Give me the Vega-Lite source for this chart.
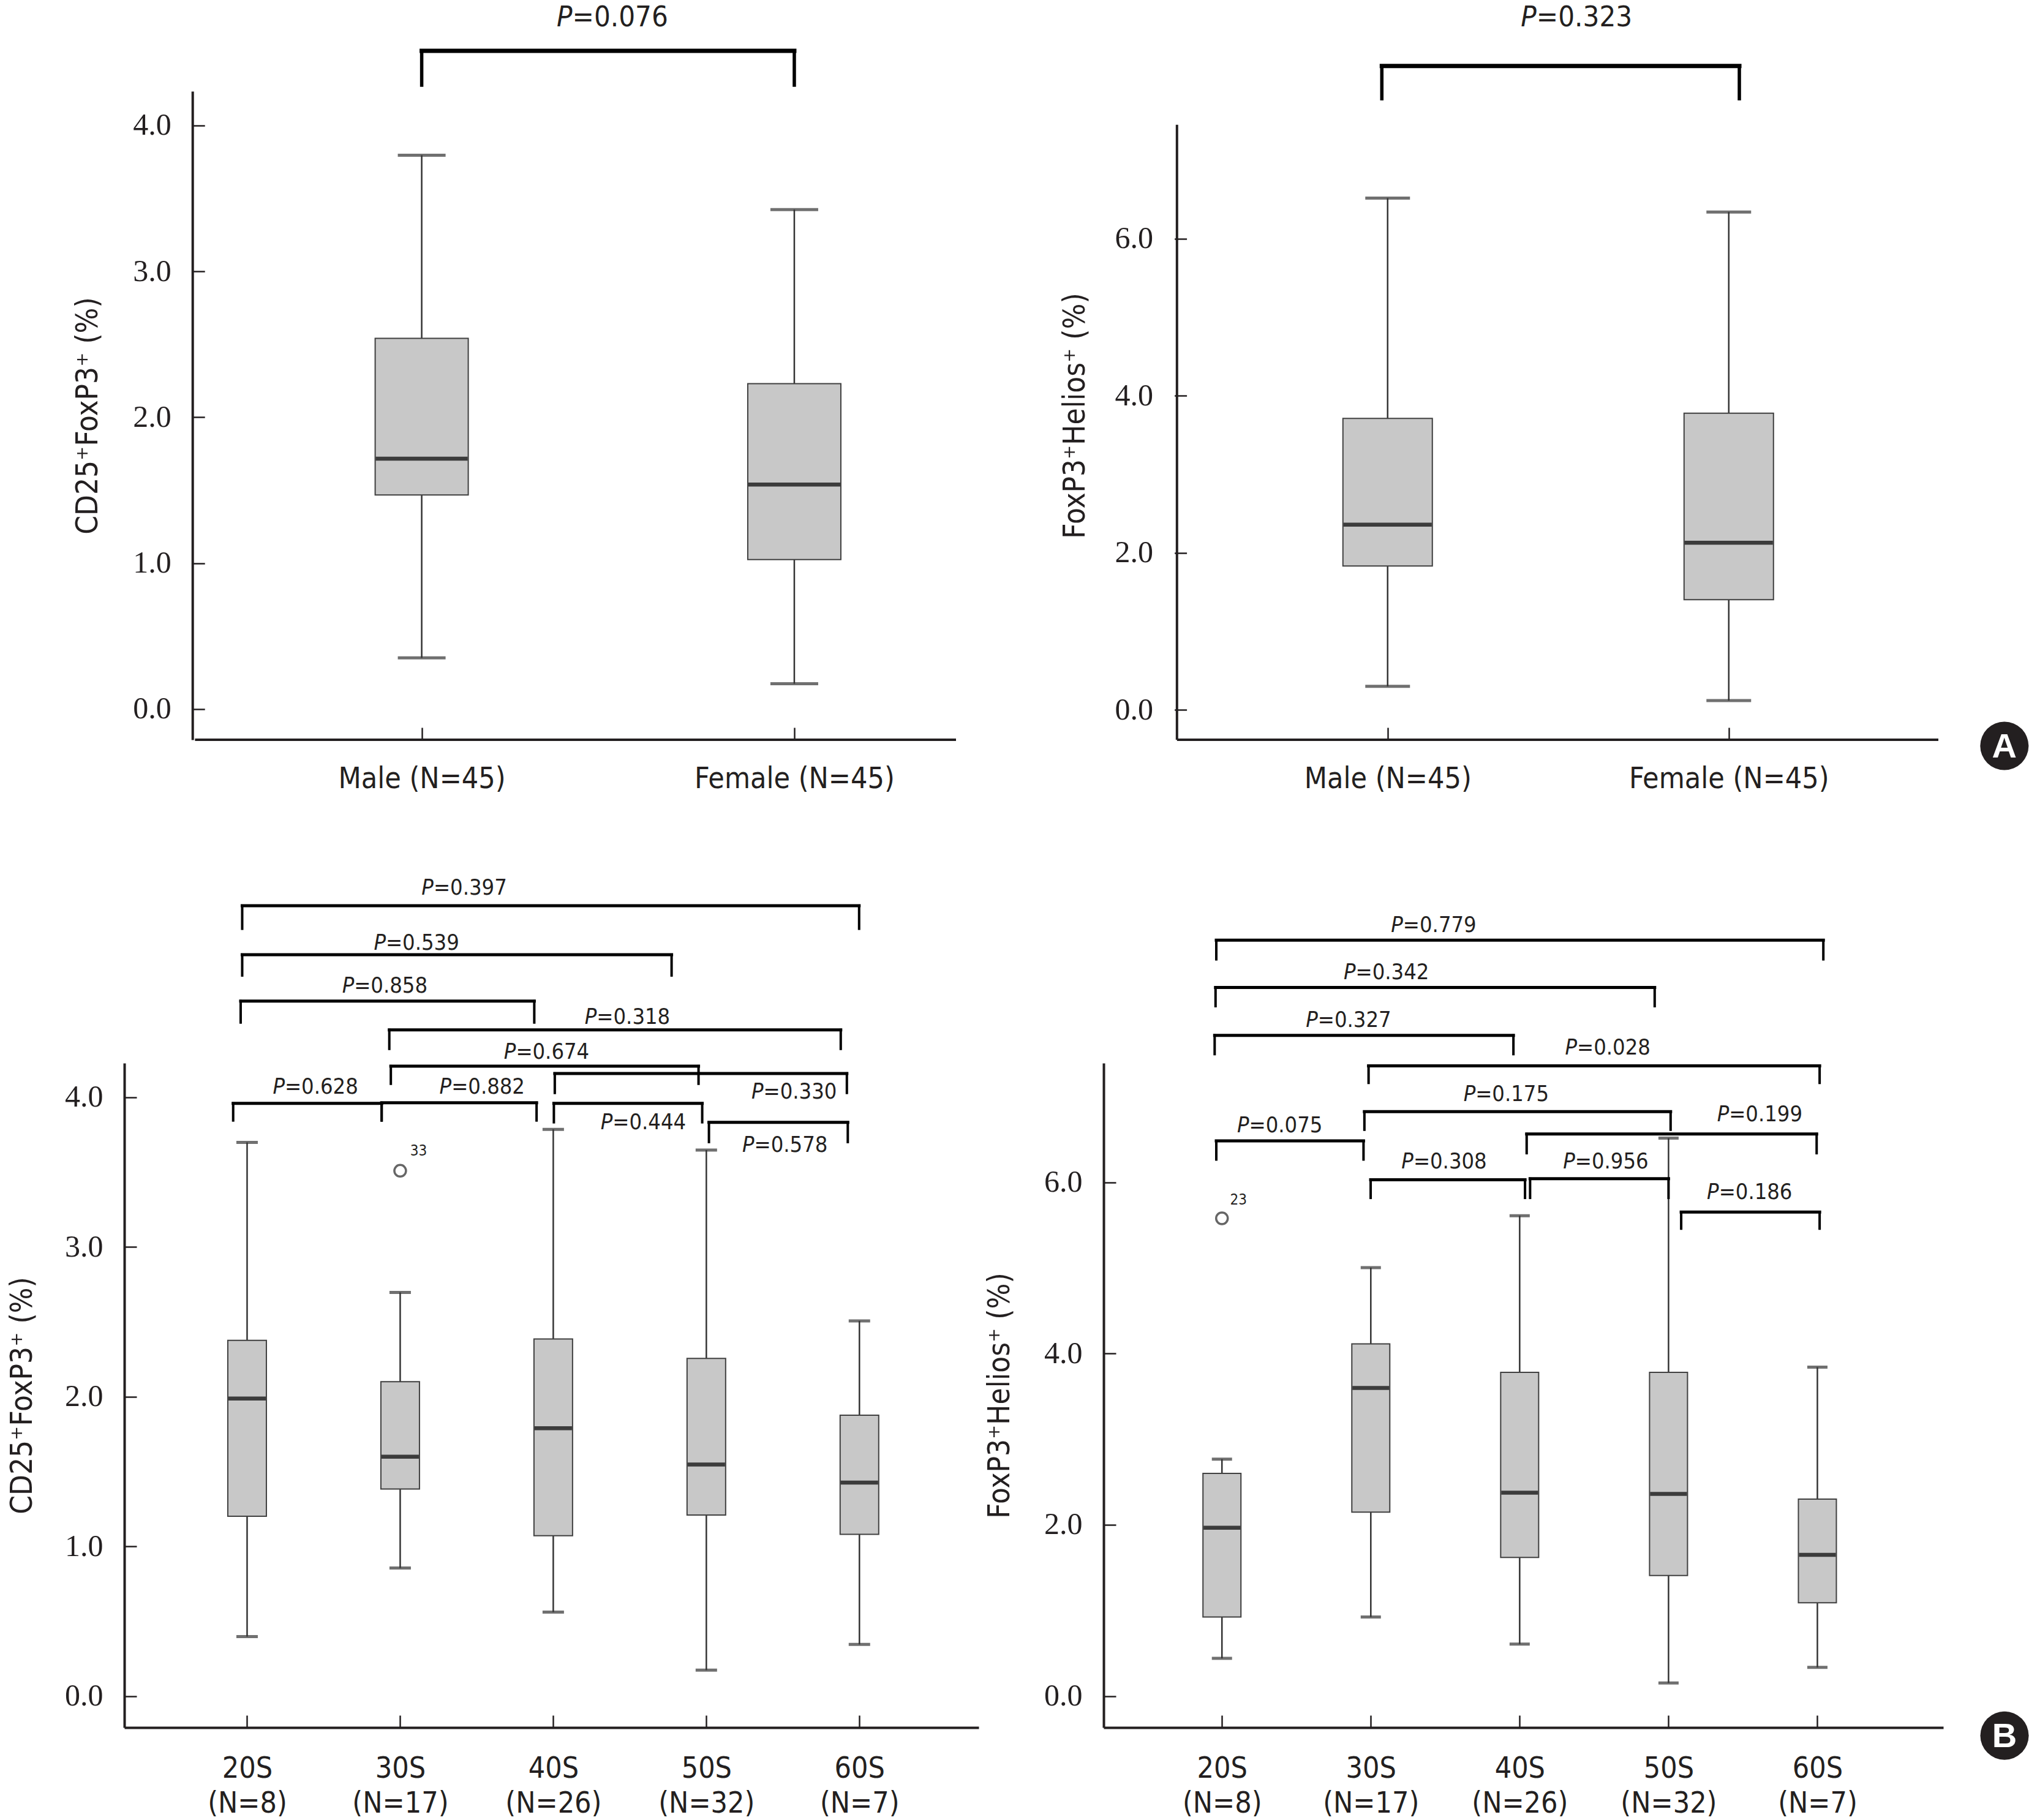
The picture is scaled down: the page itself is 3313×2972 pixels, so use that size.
{
  "$schema": "https://vega.github.io/schema/vega-lite/v6.json",
  "background": "white",
  "padding": {"left": 12, "top": 4, "right": 0, "bottom": 0},
  "config": {
    "view": {"stroke": null},
    "axis": {"domainColor": "#231f20", "domainWidth": 4, "tickColor": "#231f20", "tickWidth": 2.5, "tickSize": -20, "grid": false, "labelColor": "#231f20", "titleColor": "#231f20", "titleFontWeight": "normal", "labelOverlap": false, "labelFlush": false, "labelLimit": 0},
    "axisY": {"labelFont": "Liberation Serif", "labelFontSize": 50, "labelPadding": 55, "titleFont": "DejaVu Sans Condensed, DejaVu Sans", "titleFontSize": 49},
    "axisX": {"labelFont": "DejaVu Sans Condensed, DejaVu Sans", "labelFontSize": 48, "labelPadding": 60, "labelLineHeight": 57},
    "text": {"font": "DejaVu Sans Condensed, DejaVu Sans", "color": "#231f20"}
  },
  "datasets": {
    "tl_box": [{"g": 1, "lo": 0.351, "q1": 1.468, "med": 1.716, "q3": 2.541, "hi": 3.795}, {"g": 2, "lo": 0.174, "q1": 1.025, "med": 1.539, "q3": 2.23, "hi": 3.423}],
    "tr_box": [{"g": 1, "lo": 0.298, "q1": 1.831, "med": 2.358, "q3": 3.71, "hi": 6.516}, {"g": 2, "lo": 0.117, "q1": 1.402, "med": 2.128, "q3": 3.776, "hi": 6.339}],
    "bl_box": [
      {"g": 1, "lo": 0.398, "q1": 1.202, "med": 1.988, "q3": 2.376, "hi": 3.698},
      {"g": 2, "lo": 0.856, "q1": 1.383, "med": 1.599, "q3": 2.1, "hi": 2.696},
      {"g": 3, "lo": 0.562, "q1": 1.072, "med": 1.789, "q3": 2.385, "hi": 3.784},
      {"g": 4, "lo": 0.174, "q1": 1.21, "med": 1.547, "q3": 2.255, "hi": 3.646},
      {"g": 5, "lo": 0.346, "q1": 1.081, "med": 1.426, "q3": 1.876, "hi": 2.506}
    ],
    "br_box": [
      {"g": 1, "lo": 0.44, "q1": 0.923, "med": 1.966, "q3": 2.601, "hi": 2.767},
      {"g": 2, "lo": 0.923, "q1": 2.147, "med": 3.598, "q3": 4.112, "hi": 5.004},
      {"g": 3, "lo": 0.606, "q1": 1.619, "med": 2.374, "q3": 3.78, "hi": 5.609},
      {"g": 4, "lo": 0.153, "q1": 1.407, "med": 2.36, "q3": 3.78, "hi": 6.516},
      {"g": 5, "lo": 0.334, "q1": 1.089, "med": 1.649, "q3": 2.299, "hi": 3.841}
    ],
    "bl_out": [{"g": 2, "v": 3.508, "id": "33"}],
    "br_out": [{"g": 1, "v": 5.579, "id": "23"}],
    "tl_br": [{"p": "=0.076", "x1": 1.0, "x2": 2.0, "yb": 4.511, "ye": 4.276, "lx": 1.511, "ly": 4.738}],
    "tr_br": [{"p": "=0.323", "x1": 0.983, "x2": 2.031, "yb": 8.198, "ye": 7.782, "lx": 1.553, "ly": 8.814}],
    "bl_br": [
      {"p": "=0.397", "x1": 0.968, "x2": 4.998, "yb": 5.278, "ye": 5.124, "lx": 2.418, "ly": 5.397},
      {"p": "=0.539", "x1": 0.968, "x2": 3.773, "yb": 4.951, "ye": 4.812, "lx": 2.106, "ly": 5.029},
      {"p": "=0.858", "x1": 0.958, "x2": 2.876, "yb": 4.641, "ye": 4.498, "lx": 1.899, "ly": 4.743},
      {"p": "=0.318", "x1": 1.929, "x2": 4.878, "yb": 4.449, "ye": 4.322, "lx": 3.484, "ly": 4.534},
      {"p": "=0.674", "x1": 1.939, "x2": 3.949, "yb": 4.207, "ye": 4.089, "lx": 2.956, "ly": 4.301},
      {"p": "=0.330", "x1": 3.01, "x2": 4.918, "yb": 4.158, "ye": 4.028, "lx": 4.573, "ly": 4.036},
      {"p": "=0.628", "x1": 0.909, "x2": 1.879, "yb": 3.958, "ye": 3.844, "lx": 1.446, "ly": 4.068},
      {"p": "=0.882", "x1": 1.879, "x2": 2.891, "yb": 3.962, "ye": 3.844, "lx": 2.535, "ly": 4.068},
      {"p": "=0.444", "x1": 3.004, "x2": 3.973, "yb": 3.958, "ye": 3.832, "lx": 3.588, "ly": 3.832},
      {"p": "=0.578", "x1": 4.017, "x2": 4.924, "yb": 3.831, "ye": 3.7, "lx": 4.513, "ly": 3.68}
    ],
    "br_br": [
      {"p": "=0.779", "x1": 0.962, "x2": 5.04, "yb": 8.828, "ye": 8.604, "lx": 2.422, "ly": 9.001},
      {"p": "=0.342", "x1": 0.957, "x2": 3.907, "yb": 8.275, "ye": 8.057, "lx": 2.104, "ly": 8.454},
      {"p": "=0.327", "x1": 0.951, "x2": 2.958, "yb": 7.716, "ye": 7.497, "lx": 1.85, "ly": 7.895},
      {"p": "=0.028", "x1": 1.985, "x2": 5.015, "yb": 7.36, "ye": 7.161, "lx": 3.591, "ly": 7.572},
      {"p": "=0.175", "x1": 1.957, "x2": 4.014, "yb": 6.826, "ye": 6.614, "lx": 2.909, "ly": 7.025},
      {"p": "=0.199", "x1": 3.047, "x2": 4.995, "yb": 6.564, "ye": 6.34, "lx": 4.612, "ly": 6.788},
      {"p": "=0.075", "x1": 0.962, "x2": 1.951, "yb": 6.484, "ye": 6.266, "lx": 1.388, "ly": 6.664},
      {"p": "=0.308", "x1": 1.999, "x2": 3.036, "yb": 6.029, "ye": 5.818, "lx": 2.492, "ly": 6.241},
      {"p": "=0.956", "x1": 3.07, "x2": 4.0, "yb": 6.042, "ye": 5.818, "lx": 3.578, "ly": 6.241},
      {"p": "=0.186", "x1": 4.085, "x2": 5.015, "yb": 5.652, "ye": 5.459, "lx": 4.544, "ly": 5.881}
    ],
    "badgeA": [{"t": "A"}],
    "badgeB": [{"t": "B"}],
    "one": [{"k": 1}]
  },
  "concat": [
    {
      "width": 1363, "height": 1059,
      "layer": [
        {"data": {"name": "tl_box"}, "mark": {"type": "rule", "color": "#333333", "strokeWidth": 2.5},
         "encoding": {
           "x": {"field": "g", "type": "quantitative", "scale": {"domain": [0.2101, 2.434], "nice": false, "zero": false}, "axis": {"values": [1, 2], "labelExpr": "datum.value == 1 ? 'Male (N=45)' : 'Female (N=45)'", "title": null, "domain": false}},
           "y": {"field": "lo", "type": "quantitative", "scale": {"domain": [-0.21, 4.234], "nice": false, "zero": false}, "axis": {"values": [0, 1, 2, 3, 4], "format": ".1f", "title": "CD25⁺FoxP3⁺ (%)", "titlePadding": 48, "offset": -111.2}},
           "y2": {"field": "hi"}}},
        {"data": {"name": "tl_box"}, "mark": {"type": "tick", "orient": "horizontal", "size": 78, "thickness": 5, "color": "#333333"},
         "encoding": {"x": {"field": "g", "type": "quantitative", "scale": {"domain": [0.2101, 2.434], "nice": false, "zero": false}}, "y": {"field": "hi", "type": "quantitative", "scale": {"domain": [-0.21, 4.234], "nice": false, "zero": false}}}},
        {"data": {"name": "tl_box"}, "mark": {"type": "tick", "orient": "horizontal", "size": 78, "thickness": 5, "color": "#333333"},
         "encoding": {"x": {"field": "g", "type": "quantitative", "scale": {"domain": [0.2101, 2.434], "nice": false, "zero": false}}, "y": {"field": "lo", "type": "quantitative", "scale": {"domain": [-0.21, 4.234], "nice": false, "zero": false}}}},
        {"data": {"name": "tl_box"}, "mark": {"type": "bar", "size": 152, "fill": "#c8c8c8", "stroke": "#404040", "strokeWidth": 2},
         "encoding": {"x": {"field": "g", "type": "quantitative", "scale": {"domain": [0.2101, 2.434], "nice": false, "zero": false}}, "y": {"field": "q1", "type": "quantitative", "scale": {"domain": [-0.21, 4.234], "nice": false, "zero": false}}, "y2": {"field": "q3"}}},
        {"data": {"name": "tl_box"}, "mark": {"type": "tick", "orient": "horizontal", "size": 150, "thickness": 6.5, "color": "#000000"},
         "encoding": {"x": {"field": "g", "type": "quantitative", "scale": {"domain": [0.2101, 2.434], "nice": false, "zero": false}}, "y": {"field": "med", "type": "quantitative", "scale": {"domain": [-0.21, 4.234], "nice": false, "zero": false}}}},
        {"data": {"name": "one"}, "mark": {"type": "rule", "color": "#231f20", "strokeWidth": 4},
         "encoding": {"x": {"datum": 0.3915, "type": "quantitative", "scale": {"domain": [0.2101, 2.434], "nice": false, "zero": false}}, "x2": {"datum": 2.434}, "y": {"datum": -0.21, "type": "quantitative", "scale": {"domain": [-0.21, 4.234], "nice": false, "zero": false}}}},
        {"data": {"name": "tl_br"}, "mark": {"type": "rule", "color": "#000000", "strokeWidth": 7, "strokeCap": "square"},
         "encoding": {"x": {"field": "x1", "type": "quantitative", "scale": {"domain": [0.2101, 2.434], "nice": false, "zero": false}}, "x2": {"field": "x2"}, "y": {"field": "yb", "type": "quantitative", "scale": {"domain": [-0.21, 4.234], "nice": false, "zero": false}}}},
        {"data": {"name": "tl_br"}, "mark": {"type": "rule", "color": "#000000", "strokeWidth": 5.5, "strokeCap": "square"},
         "encoding": {"x": {"field": "x1", "type": "quantitative", "scale": {"domain": [0.2101, 2.434], "nice": false, "zero": false}}, "y": {"field": "yb", "type": "quantitative", "scale": {"domain": [-0.21, 4.234], "nice": false, "zero": false}}, "y2": {"field": "ye"}}},
        {"data": {"name": "tl_br"}, "mark": {"type": "rule", "color": "#000000", "strokeWidth": 5.5, "strokeCap": "square"},
         "encoding": {"x": {"field": "x2", "type": "quantitative", "scale": {"domain": [0.2101, 2.434], "nice": false, "zero": false}}, "y": {"field": "yb", "type": "quantitative", "scale": {"domain": [-0.21, 4.234], "nice": false, "zero": false}}, "y2": {"field": "ye"}}},
        {"data": {"name": "tl_br"}, "mark": {"type": "text", "text": "P", "fontStyle": "italic", "align": "right", "baseline": "middle", "fontSize": 47, "dx": -65},
         "encoding": {"x": {"field": "lx", "type": "quantitative", "scale": {"domain": [0.2101, 2.434], "nice": false, "zero": false}}, "y": {"field": "ly", "type": "quantitative", "scale": {"domain": [-0.21, 4.234], "nice": false, "zero": false}}}},
        {"data": {"name": "tl_br"}, "mark": {"type": "text", "align": "left", "baseline": "middle", "fontSize": 47, "dx": -65},
         "encoding": {"x": {"field": "lx", "type": "quantitative", "scale": {"domain": [0.2101, 2.434], "nice": false, "zero": false}}, "y": {"field": "ly", "type": "quantitative", "scale": {"domain": [-0.21, 4.234], "nice": false, "zero": false}}, "text": {"field": "p"}}}
      ]
    },
    {
      "width": 1368, "height": 1059,
      "layer": [
        {"data": {"name": "tr_box"}, "mark": {"type": "rule", "color": "#333333", "strokeWidth": 2.5},
         "encoding": {
           "x": {"field": "g", "type": "quantitative", "scale": {"domain": [0.1764, 2.6144], "nice": false, "zero": false}, "axis": {"values": [1, 2], "labelExpr": "datum.value == 1 ? 'Male (N=45)' : 'Female (N=45)'", "title": null, "domain": false}},
           "y": {"field": "lo", "type": "quantitative", "scale": {"domain": [-0.382, 7.877], "nice": false, "zero": false}, "axis": {"values": [0, 2, 4, 6], "format": ".1f", "title": "FoxP3⁺Helios⁺ (%)", "titlePadding": 40, "offset": -115.6, "domain": false}},
           "y2": {"field": "hi"}}},
        {"data": {"name": "tr_box"}, "mark": {"type": "tick", "orient": "horizontal", "size": 73, "thickness": 5, "color": "#333333"},
         "encoding": {"x": {"field": "g", "type": "quantitative", "scale": {"domain": [0.1764, 2.6144], "nice": false, "zero": false}}, "y": {"field": "hi", "type": "quantitative", "scale": {"domain": [-0.382, 7.877], "nice": false, "zero": false}}}},
        {"data": {"name": "tr_box"}, "mark": {"type": "tick", "orient": "horizontal", "size": 73, "thickness": 5, "color": "#333333"},
         "encoding": {"x": {"field": "g", "type": "quantitative", "scale": {"domain": [0.1764, 2.6144], "nice": false, "zero": false}}, "y": {"field": "lo", "type": "quantitative", "scale": {"domain": [-0.382, 7.877], "nice": false, "zero": false}}}},
        {"data": {"name": "tr_box"}, "mark": {"type": "bar", "size": 146, "fill": "#c8c8c8", "stroke": "#404040", "strokeWidth": 2},
         "encoding": {"x": {"field": "g", "type": "quantitative", "scale": {"domain": [0.1764, 2.6144], "nice": false, "zero": false}}, "y": {"field": "q1", "type": "quantitative", "scale": {"domain": [-0.382, 7.877], "nice": false, "zero": false}}, "y2": {"field": "q3"}}},
        {"data": {"name": "tr_box"}, "mark": {"type": "tick", "orient": "horizontal", "size": 144, "thickness": 6.5, "color": "#000000"},
         "encoding": {"x": {"field": "g", "type": "quantitative", "scale": {"domain": [0.1764, 2.6144], "nice": false, "zero": false}}, "y": {"field": "med", "type": "quantitative", "scale": {"domain": [-0.382, 7.877], "nice": false, "zero": false}}}},
        {"data": {"name": "one"}, "mark": {"type": "rule", "color": "#231f20", "strokeWidth": 4},
         "encoding": {"x": {"datum": 0.3825, "type": "quantitative", "scale": {"domain": [0.1764, 2.6144], "nice": false, "zero": false}}, "x2": {"datum": 2.6144}, "y": {"datum": -0.382, "type": "quantitative", "scale": {"domain": [-0.382, 7.877], "nice": false, "zero": false}}}},
        {"data": {"name": "one"}, "mark": {"type": "rule", "color": "#231f20", "strokeWidth": 4},
         "encoding": {"x": {"datum": 0.3825, "type": "quantitative", "scale": {"domain": [0.1764, 2.6144], "nice": false, "zero": false}}, "y": {"datum": -0.382, "type": "quantitative", "scale": {"domain": [-0.382, 7.877], "nice": false, "zero": false}}, "y2": {"datum": 7.45}}},
        {"data": {"name": "tr_br"}, "mark": {"type": "rule", "color": "#000000", "strokeWidth": 7, "strokeCap": "square"},
         "encoding": {"x": {"field": "x1", "type": "quantitative", "scale": {"domain": [0.1764, 2.6144], "nice": false, "zero": false}}, "x2": {"field": "x2"}, "y": {"field": "yb", "type": "quantitative", "scale": {"domain": [-0.382, 7.877], "nice": false, "zero": false}}}},
        {"data": {"name": "tr_br"}, "mark": {"type": "rule", "color": "#000000", "strokeWidth": 5.5, "strokeCap": "square"},
         "encoding": {"x": {"field": "x1", "type": "quantitative", "scale": {"domain": [0.1764, 2.6144], "nice": false, "zero": false}}, "y": {"field": "yb", "type": "quantitative", "scale": {"domain": [-0.382, 7.877], "nice": false, "zero": false}}, "y2": {"field": "ye"}}},
        {"data": {"name": "tr_br"}, "mark": {"type": "rule", "color": "#000000", "strokeWidth": 5.5, "strokeCap": "square"},
         "encoding": {"x": {"field": "x2", "type": "quantitative", "scale": {"domain": [0.1764, 2.6144], "nice": false, "zero": false}}, "y": {"field": "yb", "type": "quantitative", "scale": {"domain": [-0.382, 7.877], "nice": false, "zero": false}}, "y2": {"field": "ye"}}},
        {"data": {"name": "tr_br"}, "mark": {"type": "text", "text": "P", "fontStyle": "italic", "align": "right", "baseline": "middle", "fontSize": 47, "dx": -65},
         "encoding": {"x": {"field": "lx", "type": "quantitative", "scale": {"domain": [0.1764, 2.6144], "nice": false, "zero": false}}, "y": {"field": "ly", "type": "quantitative", "scale": {"domain": [-0.382, 7.877], "nice": false, "zero": false}}}},
        {"data": {"name": "tr_br"}, "mark": {"type": "text", "align": "left", "baseline": "middle", "fontSize": 47, "dx": -65},
         "encoding": {"x": {"field": "lx", "type": "quantitative", "scale": {"domain": [0.1764, 2.6144], "nice": false, "zero": false}}, "y": {"field": "ly", "type": "quantitative", "scale": {"domain": [-0.382, 7.877], "nice": false, "zero": false}}, "text": {"field": "p"}}},
        {"data": {"name": "badgeA"}, "mark": {"type": "point", "shape": "circle", "filled": true, "size": 6241, "color": "#231f20", "opacity": 1},
         "encoding": {"x": {"datum": 2.808, "type": "quantitative", "scale": {"domain": [0.1764, 2.6144], "nice": false, "zero": false}}, "y": {"datum": -0.46, "type": "quantitative", "scale": {"domain": [-0.382, 7.877], "nice": false, "zero": false}}}},
        {"data": {"name": "badgeA"}, "mark": {"type": "text", "font": "Liberation Sans", "fontWeight": "bold", "fontSize": 56, "color": "#ffffff", "align": "center", "baseline": "middle", "dy": 2},
         "encoding": {"x": {"datum": 2.808, "type": "quantitative", "scale": {"domain": [0.1764, 2.6144], "nice": false, "zero": false}}, "y": {"datum": -0.46, "type": "quantitative", "scale": {"domain": [-0.382, 7.877], "nice": false, "zero": false}}, "text": {"field": "t"}}}
      ]
    },
    {
      "width": 1395, "height": 1085,
      "layer": [
        {"data": {"name": "bl_box"}, "mark": {"type": "rule", "color": "#333333", "strokeWidth": 2.5},
         "encoding": {
           "x": {"field": "g", "type": "quantitative", "scale": {"domain": [0.218, 5.759], "nice": false, "zero": false}, "axis": {"values": [1, 2, 3, 4, 5], "labelExpr": "datum.value == 1 ? ['20S', '(N=8)'] : datum.value == 2 ? ['30S', '(N=17)'] : datum.value == 3 ? ['40S', '(N=26)'] : datum.value == 4 ? ['50S', '(N=32)'] : ['60S', '(N=7)']", "title": null, "labelPadding": 63}},
           "y": {"field": "lo", "type": "quantitative", "scale": {"domain": [-0.209, 4.227], "nice": false, "zero": false}, "axis": {"values": [0, 1, 2, 3, 4], "format": ".1f", "title": "CD25⁺FoxP3⁺ (%)", "titlePadding": 44}},
           "y2": {"field": "hi"}}},
        {"data": {"name": "bl_box"}, "mark": {"type": "tick", "orient": "horizontal", "size": 35, "thickness": 5, "color": "#333333"},
         "encoding": {"x": {"field": "g", "type": "quantitative", "scale": {"domain": [0.218, 5.759], "nice": false, "zero": false}}, "y": {"field": "hi", "type": "quantitative", "scale": {"domain": [-0.209, 4.227], "nice": false, "zero": false}}}},
        {"data": {"name": "bl_box"}, "mark": {"type": "tick", "orient": "horizontal", "size": 35, "thickness": 5, "color": "#333333"},
         "encoding": {"x": {"field": "g", "type": "quantitative", "scale": {"domain": [0.218, 5.759], "nice": false, "zero": false}}, "y": {"field": "lo", "type": "quantitative", "scale": {"domain": [-0.209, 4.227], "nice": false, "zero": false}}}},
        {"data": {"name": "bl_box"}, "mark": {"type": "bar", "size": 63, "fill": "#c8c8c8", "stroke": "#404040", "strokeWidth": 2},
         "encoding": {"x": {"field": "g", "type": "quantitative", "scale": {"domain": [0.218, 5.759], "nice": false, "zero": false}}, "y": {"field": "q1", "type": "quantitative", "scale": {"domain": [-0.209, 4.227], "nice": false, "zero": false}}, "y2": {"field": "q3"}}},
        {"data": {"name": "bl_box"}, "mark": {"type": "tick", "orient": "horizontal", "size": 61, "thickness": 6.5, "color": "#000000"},
         "encoding": {"x": {"field": "g", "type": "quantitative", "scale": {"domain": [0.218, 5.759], "nice": false, "zero": false}}, "y": {"field": "med", "type": "quantitative", "scale": {"domain": [-0.209, 4.227], "nice": false, "zero": false}}}},
        {"data": {"name": "bl_out"}, "mark": {"type": "point", "shape": "circle", "filled": false, "size": 361, "stroke": "#666666", "strokeWidth": 3.5, "opacity": 1},
         "encoding": {"x": {"field": "g", "type": "quantitative", "scale": {"domain": [0.218, 5.759], "nice": false, "zero": false}}, "y": {"field": "v", "type": "quantitative", "scale": {"domain": [-0.209, 4.227], "nice": false, "zero": false}}}},
        {"data": {"name": "bl_out"}, "mark": {"type": "text", "fontSize": 24, "dx": 30, "dy": -32, "align": "center", "baseline": "middle"},
         "encoding": {"x": {"field": "g", "type": "quantitative", "scale": {"domain": [0.218, 5.759], "nice": false, "zero": false}}, "y": {"field": "v", "type": "quantitative", "scale": {"domain": [-0.209, 4.227], "nice": false, "zero": false}}, "text": {"field": "id"}}},
        {"data": {"name": "bl_br"}, "mark": {"type": "rule", "color": "#000000", "strokeWidth": 5, "strokeCap": "square"},
         "encoding": {"x": {"field": "x1", "type": "quantitative", "scale": {"domain": [0.218, 5.759], "nice": false, "zero": false}}, "x2": {"field": "x2"}, "y": {"field": "yb", "type": "quantitative", "scale": {"domain": [-0.209, 4.227], "nice": false, "zero": false}}}},
        {"data": {"name": "bl_br"}, "mark": {"type": "rule", "color": "#000000", "strokeWidth": 4, "strokeCap": "square"},
         "encoding": {"x": {"field": "x1", "type": "quantitative", "scale": {"domain": [0.218, 5.759], "nice": false, "zero": false}}, "y": {"field": "yb", "type": "quantitative", "scale": {"domain": [-0.209, 4.227], "nice": false, "zero": false}}, "y2": {"field": "ye"}}},
        {"data": {"name": "bl_br"}, "mark": {"type": "rule", "color": "#000000", "strokeWidth": 4, "strokeCap": "square"},
         "encoding": {"x": {"field": "x2", "type": "quantitative", "scale": {"domain": [0.218, 5.759], "nice": false, "zero": false}}, "y": {"field": "yb", "type": "quantitative", "scale": {"domain": [-0.209, 4.227], "nice": false, "zero": false}}, "y2": {"field": "ye"}}},
        {"data": {"name": "bl_br"}, "mark": {"type": "text", "text": "P", "fontStyle": "italic", "align": "right", "baseline": "middle", "fontSize": 36, "dx": -50},
         "encoding": {"x": {"field": "lx", "type": "quantitative", "scale": {"domain": [0.218, 5.759], "nice": false, "zero": false}}, "y": {"field": "ly", "type": "quantitative", "scale": {"domain": [-0.209, 4.227], "nice": false, "zero": false}}}},
        {"data": {"name": "bl_br"}, "mark": {"type": "text", "align": "left", "baseline": "middle", "fontSize": 36, "dx": -50},
         "encoding": {"x": {"field": "lx", "type": "quantitative", "scale": {"domain": [0.218, 5.759], "nice": false, "zero": false}}, "y": {"field": "ly", "type": "quantitative", "scale": {"domain": [-0.209, 4.227], "nice": false, "zero": false}}, "text": {"field": "p"}}}
      ]
    },
    {
      "width": 1371, "height": 1085,
      "layer": [
        {"data": {"name": "br_box"}, "mark": {"type": "rule", "color": "#333333", "strokeWidth": 2.5},
         "encoding": {
           "x": {"field": "g", "type": "quantitative", "scale": {"domain": [0.2256, 5.825], "nice": false, "zero": false}, "axis": {"values": [1, 2, 3, 4, 5], "labelExpr": "datum.value == 1 ? ['20S', '(N=8)'] : datum.value == 2 ? ['30S', '(N=17)'] : datum.value == 3 ? ['40S', '(N=26)'] : datum.value == 4 ? ['50S', '(N=32)'] : ['60S', '(N=7)']", "title": null, "labelPadding": 63}},
           "y": {"field": "lo", "type": "quantitative", "scale": {"domain": [-0.368, 7.392], "nice": false, "zero": false}, "axis": {"values": [0, 2, 4, 6], "format": ".1f", "title": "FoxP3⁺Helios⁺ (%)", "titlePadding": 47}},
           "y2": {"field": "hi"}}},
        {"data": {"name": "br_box"}, "mark": {"type": "tick", "orient": "horizontal", "size": 33, "thickness": 5, "color": "#333333"},
         "encoding": {"x": {"field": "g", "type": "quantitative", "scale": {"domain": [0.2256, 5.825], "nice": false, "zero": false}}, "y": {"field": "hi", "type": "quantitative", "scale": {"domain": [-0.368, 7.392], "nice": false, "zero": false}}}},
        {"data": {"name": "br_box"}, "mark": {"type": "tick", "orient": "horizontal", "size": 33, "thickness": 5, "color": "#333333"},
         "encoding": {"x": {"field": "g", "type": "quantitative", "scale": {"domain": [0.2256, 5.825], "nice": false, "zero": false}}, "y": {"field": "lo", "type": "quantitative", "scale": {"domain": [-0.368, 7.392], "nice": false, "zero": false}}}},
        {"data": {"name": "br_box"}, "mark": {"type": "bar", "size": 62, "fill": "#c8c8c8", "stroke": "#404040", "strokeWidth": 2},
         "encoding": {"x": {"field": "g", "type": "quantitative", "scale": {"domain": [0.2256, 5.825], "nice": false, "zero": false}}, "y": {"field": "q1", "type": "quantitative", "scale": {"domain": [-0.368, 7.392], "nice": false, "zero": false}}, "y2": {"field": "q3"}}},
        {"data": {"name": "br_box"}, "mark": {"type": "tick", "orient": "horizontal", "size": 60, "thickness": 6.5, "color": "#000000"},
         "encoding": {"x": {"field": "g", "type": "quantitative", "scale": {"domain": [0.2256, 5.825], "nice": false, "zero": false}}, "y": {"field": "med", "type": "quantitative", "scale": {"domain": [-0.368, 7.392], "nice": false, "zero": false}}}},
        {"data": {"name": "br_out"}, "mark": {"type": "point", "shape": "circle", "filled": false, "size": 361, "stroke": "#666666", "strokeWidth": 3.5, "opacity": 1},
         "encoding": {"x": {"field": "g", "type": "quantitative", "scale": {"domain": [0.2256, 5.825], "nice": false, "zero": false}}, "y": {"field": "v", "type": "quantitative", "scale": {"domain": [-0.368, 7.392], "nice": false, "zero": false}}}},
        {"data": {"name": "br_out"}, "mark": {"type": "text", "fontSize": 24, "dx": 27, "dy": -29, "align": "center", "baseline": "middle"},
         "encoding": {"x": {"field": "g", "type": "quantitative", "scale": {"domain": [0.2256, 5.825], "nice": false, "zero": false}}, "y": {"field": "v", "type": "quantitative", "scale": {"domain": [-0.368, 7.392], "nice": false, "zero": false}}, "text": {"field": "id"}}},
        {"data": {"name": "br_br"}, "mark": {"type": "rule", "color": "#000000", "strokeWidth": 5, "strokeCap": "square"},
         "encoding": {"x": {"field": "x1", "type": "quantitative", "scale": {"domain": [0.2256, 5.825], "nice": false, "zero": false}}, "x2": {"field": "x2"}, "y": {"field": "yb", "type": "quantitative", "scale": {"domain": [-0.368, 7.392], "nice": false, "zero": false}}}},
        {"data": {"name": "br_br"}, "mark": {"type": "rule", "color": "#000000", "strokeWidth": 4, "strokeCap": "square"},
         "encoding": {"x": {"field": "x1", "type": "quantitative", "scale": {"domain": [0.2256, 5.825], "nice": false, "zero": false}}, "y": {"field": "yb", "type": "quantitative", "scale": {"domain": [-0.368, 7.392], "nice": false, "zero": false}}, "y2": {"field": "ye"}}},
        {"data": {"name": "br_br"}, "mark": {"type": "rule", "color": "#000000", "strokeWidth": 4, "strokeCap": "square"},
         "encoding": {"x": {"field": "x2", "type": "quantitative", "scale": {"domain": [0.2256, 5.825], "nice": false, "zero": false}}, "y": {"field": "yb", "type": "quantitative", "scale": {"domain": [-0.368, 7.392], "nice": false, "zero": false}}, "y2": {"field": "ye"}}},
        {"data": {"name": "br_br"}, "mark": {"type": "text", "text": "P", "fontStyle": "italic", "align": "right", "baseline": "middle", "fontSize": 36, "dx": -50},
         "encoding": {"x": {"field": "lx", "type": "quantitative", "scale": {"domain": [0.2256, 5.825], "nice": false, "zero": false}}, "y": {"field": "ly", "type": "quantitative", "scale": {"domain": [-0.368, 7.392], "nice": false, "zero": false}}}},
        {"data": {"name": "br_br"}, "mark": {"type": "text", "align": "left", "baseline": "middle", "fontSize": 36, "dx": -50},
         "encoding": {"x": {"field": "lx", "type": "quantitative", "scale": {"domain": [0.2256, 5.825], "nice": false, "zero": false}}, "y": {"field": "ly", "type": "quantitative", "scale": {"domain": [-0.368, 7.392], "nice": false, "zero": false}}, "text": {"field": "p"}}},
        {"data": {"name": "badgeB"}, "mark": {"type": "point", "shape": "circle", "filled": true, "size": 6241, "color": "#231f20", "opacity": 1},
         "encoding": {"x": {"datum": 6.257, "type": "quantitative", "scale": {"domain": [0.2256, 5.825], "nice": false, "zero": false}}, "y": {"datum": -0.462, "type": "quantitative", "scale": {"domain": [-0.368, 7.392], "nice": false, "zero": false}}}},
        {"data": {"name": "badgeB"}, "mark": {"type": "text", "font": "Liberation Sans", "fontWeight": "bold", "fontSize": 56, "color": "#ffffff", "align": "center", "baseline": "middle", "dy": 2},
         "encoding": {"x": {"datum": 6.257, "type": "quantitative", "scale": {"domain": [0.2256, 5.825], "nice": false, "zero": false}}, "y": {"datum": -0.462, "type": "quantitative", "scale": {"domain": [-0.368, 7.392], "nice": false, "zero": false}}, "text": {"field": "t"}}}
      ]
    }
  ],
  "columns": 2,
  "align": "each",
  "spacing": {"row": 135, "column": 10}
}
